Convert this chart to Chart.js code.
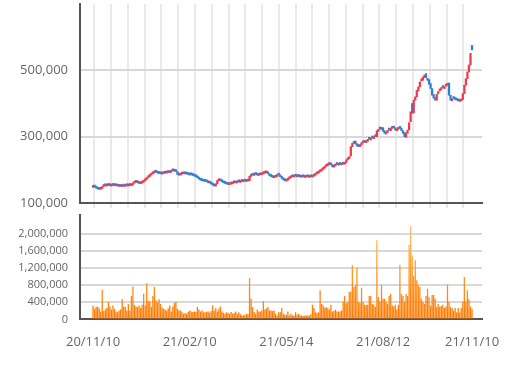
<!DOCTYPE html>
<html>
<head>
<meta charset="utf-8">
<script src="https://cdn.jsdelivr.net/npm/chart.js@4.4.0/dist/chart.umd.min.js"></script>
<style>
  html, body { margin: 0; padding: 0; background: #fff; }
  #wrap { position: relative; width: 512px; height: 367px; }
  #priceChart { position: absolute; left: 0; top: 0; }
  #volumeChart { position: absolute; left: 0; top: 210px; }
</style>
</head>
<body>
<div id="wrap">
  <canvas id="priceChart" width="512" height="214"></canvas>
  <canvas id="volumeChart" width="512" height="157"></canvas>
</div>
<script>
// trading calendar (KRX), 2020-11-10 .. 2021-11-10
const startDate = '2020-11-10';
const endDate = '2021-11-10';
const holidays = ['2020-12-25', '2020-12-31', '2021-01-01', '2021-02-11', '2021-02-12', '2021-03-01',
  '2021-05-05', '2021-05-19', '2021-08-16', '2021-09-20', '2021-09-21', '2021-09-22', '2021-10-04', '2021-10-11'];
const tickLabels = ['20/11/10', '21/02/10', '21/05/14', '21/08/12', '21/11/10'];
const priceTicks = [100000, 300000, 500000];
const volumeTicks = [0, 400000, 800000, 1200000, 1600000, 2000000];

const openPrices = [
  147000,151000,148000,145000,143000,141000,144000,150000,154000,151000,
  155000,154000,151000,155000,152000,155000,153000,150000,153000,149000,
  153000,150000,154000,151000,155000,152000,155000,160000,162000,165000,
  162000,158000,160000,163000,167000,171000,176000,180000,184000,188000,
  191000,197000,194000,191000,190000,187000,189000,192000,190000,194000,
  191000,193000,199000,196000,200000,195000,187000,184000,187000,188000,
  191000,189000,188000,184000,187000,186000,184000,182000,180000,176000,
  172000,170000,168000,167000,166000,161000,163000,160000,157000,155000,
  151000,158000,167000,172000,168000,164000,161000,160000,158000,155000,
  157000,158000,163000,160000,161000,166000,162000,167000,164000,168000,
  165000,168000,167000,180000,186000,183000,188000,187000,183000,188000,
  185000,188000,190000,191000,194000,188000,183000,180000,176000,178000,
  180000,186000,184000,179000,174000,170000,166000,169000,173000,176000,
  181000,178000,183000,179000,182000,178000,181000,181000,177000,178000,
  182000,177000,181000,178000,181000,184000,188000,190000,194000,197000,
  201000,205000,210000,213000,216000,221000,216000,208000,212000,219000,
  214000,219000,215000,220000,217000,222000,230000,234000,242000,270000,
  280000,287000,279000,275000,270000,275000,281000,288000,282000,286000,
  295000,290000,299000,294000,302000,300000,316000,326000,322000,327000,
  318000,308000,313000,322000,318000,325000,332000,327000,318000,322000,
  330000,326000,318000,312000,298000,311000,321000,345000,400000,372000,
  410000,420000,438000,450000,468000,470000,478000,490000,475000,472000,
  460000,445000,427000,418000,410000,430000,438000,442000,450000,445000,
  452000,455000,462000,425000,408000,418000,415000,413000,412000,406000,
  408000,412000,430000,455000,475000,495000,516000,575000
];

const closePrices = [
  151000,148000,145000,142000,141000,144000,150000,153000,152000,154000,
  153000,152000,154000,153000,154000,152000,151000,153000,150000,151000,
  151000,153000,152000,154000,153000,155000,160000,163000,164000,161000,
  159000,160000,163000,167000,171000,175000,180000,184000,188000,192000,
  196000,193000,190000,189000,188000,190000,191000,190000,193000,192000,
  194000,196000,197000,199000,195000,186000,184000,188000,189000,190000,
  188000,187000,186000,186000,185000,183000,181000,179000,176000,172000,
  169000,167000,166000,165000,164000,163000,160000,157000,154000,151000,
  158000,168000,171000,167000,164000,161000,159000,157000,156000,158000,
  159000,160000,161000,162000,163000,164000,164000,165000,166000,166000,
  167000,166000,181000,183000,184000,185000,186000,184000,186000,185000,
  188000,191000,193000,194000,188000,182000,180000,177000,178000,181000,
  183000,184000,179000,174000,170000,167000,169000,173000,177000,178000,
  179000,180000,181000,181000,180000,180000,178000,179000,179000,180000,
  179000,179000,179000,181000,184000,189000,190000,194000,199000,200000,
  205000,210000,214000,216000,220000,215000,209000,212000,214000,216000,
  217000,216000,218000,217000,222000,230000,235000,240000,270000,280000,
  285000,278000,272000,270000,276000,282000,285000,283000,287000,290000,
  292000,294000,296000,298000,300000,318000,320000,323000,325000,316000,
  310000,314000,318000,320000,326000,330000,326000,320000,323000,327000,
  325000,318000,310000,300000,312000,320000,342000,375000,370000,410000,
  420000,440000,450000,465000,472000,480000,486000,478000,470000,458000,
  445000,425000,416000,410000,428000,435000,440000,445000,448000,450000,
  455000,460000,425000,410000,412000,415000,412000,410000,408000,410000,
  412000,430000,455000,475000,495000,516000,551000,562000
];

const volumes = [
  329000,250000,290000,305000,260000,188000,696000,200000,235000,266000,
  407000,300000,235000,329000,250000,188000,170000,211000,235000,470000,
  300000,290000,211000,360000,211000,548000,775000,345000,300000,290000,
  329000,266000,345000,602000,329000,853000,437000,423000,290000,548000,
  760000,447000,400000,470000,360000,280000,250000,235000,211000,260000,
  329000,188000,300000,383000,407000,250000,211000,211000,170000,132000,
  150000,132000,180000,211000,188000,172000,188000,172000,290000,235000,
  188000,211000,165000,165000,180000,188000,157000,200000,329000,211000,
  266000,188000,250000,305000,188000,150000,132000,165000,150000,132000,
  172000,132000,150000,188000,132000,165000,120000,94000,94000,110000,
  132000,120000,970000,485000,290000,172000,132000,235000,188000,188000,
  210000,430000,235000,260000,290000,211000,211000,200000,211000,132000,
  94000,165000,165000,266000,132000,110000,110000,188000,94000,132000,
  100000,94000,165000,110000,132000,94000,90000,78000,94000,94000,
  94000,90000,120000,345000,266000,165000,150000,165000,682000,360000,
  329000,266000,290000,260000,235000,345000,188000,200000,235000,188000,
  188000,188000,211000,423000,548000,380000,407000,642000,656000,1270000,
  760000,800000,1205000,407000,383000,743000,407000,345000,345000,345000,
  548000,548000,360000,345000,290000,1857000,525000,407000,815000,485000,
  485000,407000,360000,548000,595000,329000,300000,345000,235000,345000,
  1283000,595000,548000,407000,595000,548000,1753000,2193000,1504000,1018000,
  1386000,917000,815000,760000,485000,407000,360000,548000,720000,525000,
  329000,572000,572000,485000,290000,360000,290000,313000,345000,266000,
  300000,815000,407000,290000,266000,211000,266000,165000,266000,165000,
  266000,423000,995000,423000,682000,470000,300000,250000
];

const dates = [];
for (let t = Date.parse(startDate); t <= Date.parse(endDate); t += 86400000) {
  const d = new Date(t);
  const iso = d.toISOString().slice(0, 10);
  if (d.getUTCDay() === 0 || d.getUTCDay() === 6 || holidays.includes(iso)) continue;
  dates.push(iso.slice(2).replace(/-/g, '/'));
}

const upColor = '#f2394a';
const downColor = '#2f7fd6';
const axisColor = '#555';
const labelColor = '#666';
const fontFamily = "'Open Sans', 'Noto Sans', sans-serif";

// x range with a little room on both sides of the first/last day
const xMin = -8.5;
const xMax = dates.length + 5.5;
const gridStep = 10.93;
const gridLines = Array.from({ length: 23 }, (_, k) => 0.85 + k * gridStep);

const noPadY = s => { s.width = 80; s.paddingTop = 0; s.paddingBottom = 0; };
const noPadX = s => { s.paddingLeft = 0; s.paddingRight = 0; };

new Chart(document.getElementById('priceChart'), {
  type: 'bar',
  data: {
    datasets: [{
      data: closePrices.map((c, i) => ({ x: i, y: [openPrices[i], c] })),
      backgroundColor: closePrices.map((c, i) => c >= openPrices[i] ? upColor : downColor),
      barThickness: 1.6,
      minBarLength: 2
    }]
  },
  options: {
    responsive: false,
    animation: false,
    layout: { padding: { left: 0, right: 30, top: 4, bottom: 6 } },
    plugins: { legend: { display: false }, tooltip: { enabled: false } },
    scales: {
      x: {
        type: 'linear',
        offset: false,
        min: xMin,
        max: xMax,
        afterBuildTicks: axis => { axis.ticks = gridLines.map(v => ({ value: v })); },
        afterFit: noPadX,
        ticks: { display: false },
        grid: { offset: false, color: '#e9e9e9', lineWidth: 2, tickLength: 5 },
        border: { color: axisColor, width: 2 }
      },
      y: {
        min: 100000,
        max: 700000,
        afterBuildTicks: axis => { axis.ticks = priceTicks.map(v => ({ value: v })); },
        afterFit: noPadY,
        ticks: {
          padding: 12,
          color: labelColor,
          font: { family: fontFamily, size: 13 },
          callback: v => v.toLocaleString('en-US')
        },
        grid: { color: '#d8d8d8', lineWidth: 2, drawTicks: false },
        border: { color: axisColor, width: 2 }
      }
    }
  }
});

let volGradient = null;
function volumeFill(ctx) {
  const chart = ctx.chart;
  const area = chart.chartArea;
  if (!area) return '#ff8a1a';
  if (!volGradient) {
    volGradient = chart.ctx.createLinearGradient(0, area.bottom, 0, area.top);
    volGradient.addColorStop(0, '#ff7800');
    volGradient.addColorStop(0.5, '#ff9c2a');
    volGradient.addColorStop(1, '#ffcf85');
  }
  return volGradient;
}

new Chart(document.getElementById('volumeChart'), {
  type: 'bar',
  data: {
    datasets: [{
      data: volumes.map((v, i) => ({ x: i, y: v })),
      backgroundColor: volumeFill,
      barPercentage: 0.85,
      categoryPercentage: 1
    }]
  },
  options: {
    responsive: false,
    animation: false,
    layout: { padding: { left: 0, right: 30, top: 5, bottom: 2 } },
    plugins: { legend: { display: false }, tooltip: { enabled: false } },
    scales: {
      x: {
        type: 'linear',
        offset: false,
        min: xMin,
        max: xMax,
        afterBuildTicks: axis => { axis.ticks = tickLabels.map(l => ({ value: dates.indexOf(l) })); },
        afterFit: noPadX,
        ticks: {
          padding: 15,
          maxRotation: 0,
          autoSkip: false,
          color: labelColor,
          font: { family: fontFamily, size: 13 },
          callback: v => dates[v] || ''
        },
        grid: { display: false, drawTicks: false, offset: false },
        border: { color: axisColor, width: 2 }
      },
      y: {
        min: 0,
        max: 2450000,
        afterBuildTicks: axis => { axis.ticks = volumeTicks.map(v => ({ value: v })); },
        afterFit: noPadY,
        ticks: {
          padding: 12,
          color: labelColor,
          font: { family: fontFamily, size: 11 },
          callback: v => v.toLocaleString('en-US')
        },
        grid: { color: '#d8d8d8', lineWidth: 2, drawTicks: false },
        border: { color: axisColor, width: 2 }
      }
    }
  }
});
</script>
</body>
</html>
